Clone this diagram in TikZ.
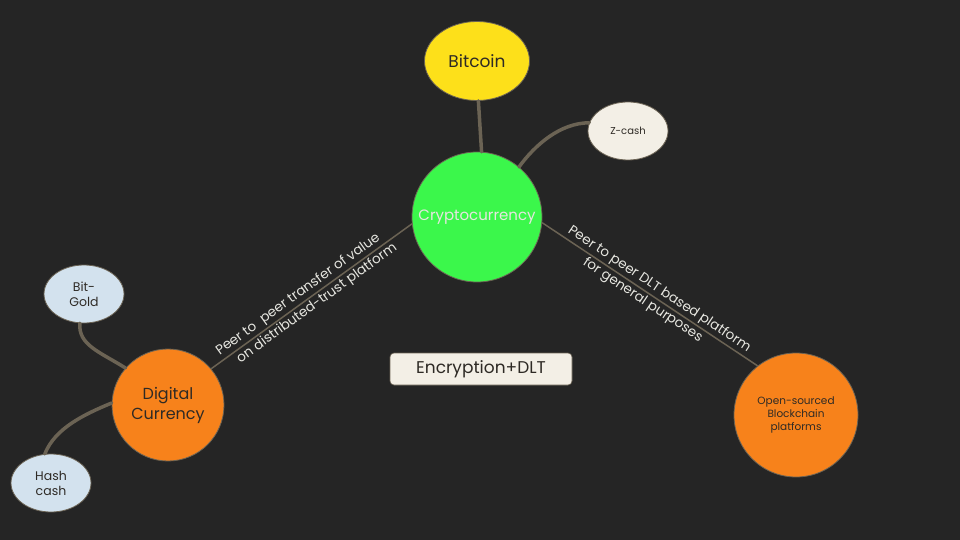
\documentclass[tikz,border=0pt]{standalone}
\usepackage{fontspec}
\setmainfont{Poppins}
\usetikzlibrary{shapes.geometric}
\definecolor{bg}{HTML}{252525}
\definecolor{edgec}{HTML}{6B6354}
\definecolor{bord}{HTML}{6B6354}
\definecolor{cgreen}{HTML}{3BF74B}
\definecolor{cyellow}{HTML}{FDE01A}
\definecolor{corange}{HTML}{F7821B}
\definecolor{ccream}{HTML}{F3EFE6}
\definecolor{cblue}{HTML}{D3E2EE}
\definecolor{ctext}{HTML}{2E2A25}
\definecolor{clabel}{HTML}{E6E6E0}
\begin{document}
\begin{tikzpicture}[x=1pt,y=-1pt,
  bubble/.style={draw=bord,line width=0.8pt,text=ctext,align=center,inner sep=0pt},
  ell/.style={bubble,ellipse},
  circ/.style={bubble,circle},
  conn/.style={draw=edgec,line width=3.5pt,line cap=round},
  thin/.style={draw=edgec,line width=1.5pt},
  lab/.style={text=clabel,font=\fontsize{13.5}{15}\selectfont,sloped,inner sep=1.5pt}]
\fill[bg] (0,0) rectangle (960,540);
\useasboundingbox (0,0) rectangle (960,540);
% nodes
\node[circ,fill=cgreen,minimum size=130pt,text=clabel,font=\fontsize{15}{17}\selectfont] (crypto) at (477,217) {Cryptocurrency};
\node[ell,fill=cyellow,minimum width=105pt,minimum height=79pt,font=\fontsize{17}{20}\selectfont] (btc) at (477,61) {Bitcoin};
\node[ell,fill=ccream,minimum width=80pt,minimum height=58pt,font=\fontsize{10}{12}\selectfont] (zc) at (628,131) {Z-cash};
\node[circ,fill=corange,minimum size=112pt,font=\fontsize{16}{20}\selectfont] (dig) at (168,405) {Digital\\Currency};
\node[ell,fill=cblue,minimum width=80pt,minimum height=58pt,font=\fontsize{12.5}{15}\selectfont] (bg) at (84,294) {Bit-\\Gold};
\node[ell,fill=cblue,minimum width=80pt,minimum height=58pt,font=\fontsize{12.5}{15}\selectfont] (hc) at (51,483) {Hash\\cash};
\node[circ,fill=corange,minimum size=124pt,font=\fontsize{10.5}{13}\selectfont] (os) at (796,415) {Open-sourced\\Blockchain\\platforms};
\node[draw=bord,line width=0.6pt,fill=ccream,rounded corners=4pt,minimum width=182pt,minimum height=32pt,text=ctext,font=\fontsize{17}{20}\selectfont] (enc) at (481,369) {Encryption+DLT};
% connectors
\draw[conn] (btc.272) -- (crypto.86);
\draw[conn] (crypto.50) .. controls (535,145) and (560,123) .. (zc.168);
\draw[conn] (bg.262) .. controls (78,345) and (100,352) .. (dig.139);
\draw[conn] (hc.102) .. controls (55,428) and (85,414) .. (dig.178);
\draw[thin] (dig.40) -- node[lab,above,pos=0.46]{Peer to\ \ peer transfer of value} node[lab,below,pos=0.5]{on distributed-trust platform} (crypto.186);
\draw[thin] (crypto.-5) -- node[lab,above,pos=0.52]{Peer to peer DLT based platform} node[lab,below,pos=0.49]{for general purposes} (os.128);
\end{tikzpicture}
\end{document}
